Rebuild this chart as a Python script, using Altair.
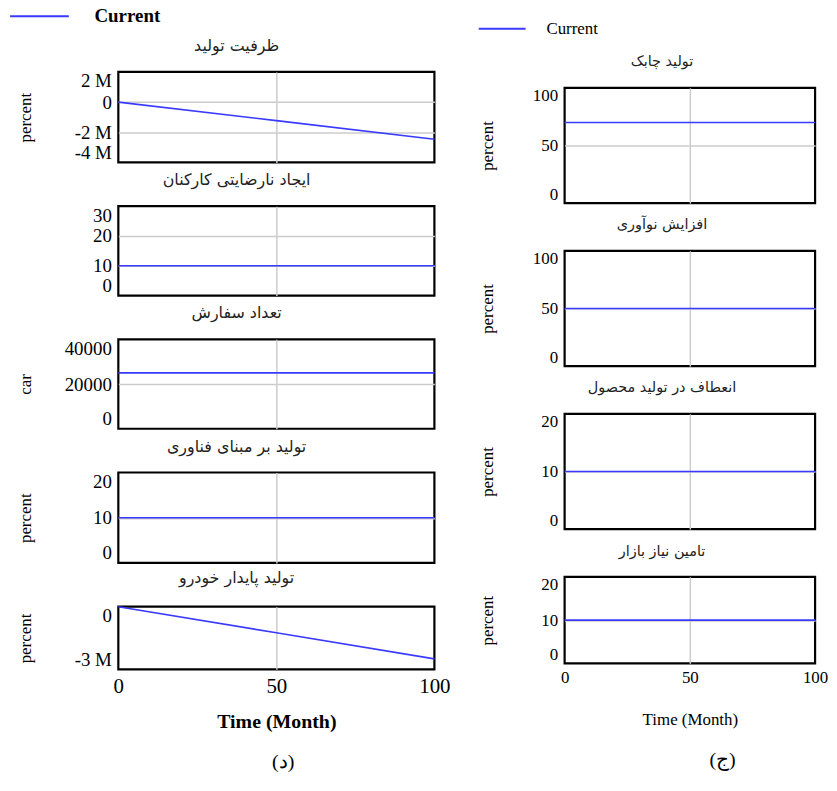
import altair as alt
import pandas as pd

# ---- data -------------------------------------------------------------
time = [0, 50, 100]

# left column (د)
capacity = [0, -1230000, -2460000]          # ظرفیت تولید
dissatisfaction = [10, 10, 10]              # ایجاد نارضایتی کارکنان
orders = [25000, 25000, 25000]              # تعداد سفارش
tech_based = [10, 10, 10]                   # تولید بر مبنای فناوری
sustainable = [0, -1250000, -2500000]       # تولید پایدار خودرو

# right column (ج)
agile = [70, 70, 70]                        # تولید چابک
innovation = [50, 50, 50]                   # افزایش نوآوری
flexibility = [10, 10, 10]                  # انعطاف در تولید محصول
market_need = [10, 10, 10]                  # تامین نیاز بازار

left_titles = ["ظرفیت تولید", "ایجاد نارضایتی کارکنان", "تعداد سفارش",
               "تولید بر مبنای فناوری", "تولید پایدار خودرو"]
right_titles = ["تولید چابک", "افزایش نوآوری", "انعطاف در تولید محصول",
                "تامین نیاز بازار"]

left_yunits = ["percent", None, "car", "percent", "percent"]
right_yunits = ["percent", "percent", "percent", "percent"]

left_domains = [[-4000000, 2000000], [0, 30], [0, 40000], [0, 20], [-3000000, 0]]
left_ticks = [[-4000000, -2000000, 0, 2000000], [0, 10, 20, 30],
              [0, 20000, 40000], [0, 10, 20], [-3000000, 0]]
right_domains = [[0, 100], [0, 100], [0, 20], [0, 20]]
right_ticks = [[0, 50, 100], [0, 50, 100], [0, 10, 20], [0, 10, 20]]
x_ticks = [0, 50, 100]
series_name = "Current"

SERIF = "Liberation Serif"
ARABIC = "DejaVu Sans"
BLUE = "#3a3aff"
M_EXPR = "datum.value == 0 ? '0' : (datum.value / 1000000) + ' M'"
LEFT_SYMBOL = "M-1,0H7"
RIGHT_SYMBOL = "M-4,0H4"


def panel(values, title, yunit, domain, ticks, width, height, side,
          bottom=False, legend=None, mfmt=False):
    big = side == "left"
    df = pd.DataFrame({"time": time, "value": values, "series": series_name})
    lo, hi = domain
    ygrid = {"condition": {"test": f"datum.value > {lo} && datum.value < {hi}",
                           "value": 1}, "value": 0}
    yaxis_kw = dict(
        values=ticks, grid=True, gridColor="#cccccc", gridWidth=1.5,
        gridOpacity=ygrid, domain=False, ticks=False, labelFlush=True,
        labelFont=SERIF, labelFontSize=19 if big else 17, labelColor="black",
        labelPadding=7, format="d",
    )
    if mfmt:
        yaxis_kw["labelExpr"] = M_EXPR
    if yunit:
        yaxis_kw.update(title=yunit, titleFont=SERIF, titleFontSize=17,
                        titleFontWeight="normal", titleColor="black",
                        titleX=-93 if big else -78, titleY=height / 2,
                        titleAngle=-90, titleBaseline="middle", titleAlign="center")
    else:
        yaxis_kw["title"] = None

    if bottom:
        xaxis = alt.Axis(
            values=x_ticks, grid=True, gridColor="#cccccc", gridWidth=1.5,
            gridOpacity={"condition": {"test": "datum.value == 50", "value": 1}, "value": 0},
            domain=False, ticks=False, labelAngle=0, labelFlush=False, labelFont=SERIF,
            labelFontSize=21 if big else 17, labelColor="black", labelPadding=6,
            title="Time (Month)", titleFont=SERIF, titleFontSize=20 if big else 17,
            titleFontWeight="bold" if big else "normal", titleColor="black",
            titleY=53 if big else 57, titleBaseline="middle")
    else:
        xaxis = alt.Axis(values=[50], grid=True, gridColor="#cccccc", gridWidth=1.5,
                         labels=False, ticks=False, domain=False, title=None)

    enc = dict(
        x=alt.X("time:Q", scale=alt.Scale(domain=[0, 100], nice=False), axis=xaxis),
        y=alt.Y("value:Q", scale=alt.Scale(domain=domain, nice=False, zero=False),
                axis=alt.Axis(**yaxis_kw)),
    )
    if legend is not None:
        enc["color"] = alt.Color("series:N",
                                 scale=alt.Scale(domain=[series_name], range=[BLUE]),
                                 legend=legend)
        mark = alt.Chart(df).mark_line(strokeWidth=1.6)
    else:
        mark = alt.Chart(df).mark_line(strokeWidth=1.6, color=BLUE)

    return mark.encode(**enc).properties(
        width=width, height=height,
        title=alt.TitleParams(title, font=ARABIC, fontSize=16 if big else 14.5,
                              fontWeight="normal", color="#222222",
                              anchor="middle", frame="group",
                              dx=-40 if big else -28, offset=10,
                              baseline="middle"))


def spacer(width, height):
    return alt.Chart(pd.DataFrame({"time": [0]})).mark_point(opacity=0).encode(
        x=alt.X("time:Q", axis=None)).properties(
        width=width, height=height, view=alt.ViewBackground(strokeOpacity=0))


left_series = [capacity, dissatisfaction, orders, tech_based, sustainable]
right_series = [agile, innovation, flexibility, market_need]
left_heights = [91, 90, 90, 91, 63]
right_heights = [116, 116, 116, 87]
LEFT_W, RIGHT_W = 318, 252

left_legend = alt.Legend(orient="none", legendX=-111, legendY=-20.5, title=None,
                         symbolType=LEFT_SYMBOL, symbolSize=218, symbolStrokeWidth=2,
                         labelFont=SERIF, labelFontSize=19, labelFontWeight="bold",
                         labelColor="black", labelOffset=68, padding=0)
right_legend = alt.Legend(orient="none", legendX=-71.3, legendY=-7, title=None,
                          symbolType=RIGHT_SYMBOL, symbolSize=139, symbolStrokeWidth=2,
                          labelFont=SERIF, labelFontSize=17, labelFontWeight="normal",
                          labelColor="black", labelOffset=36, padding=0)

left_panels = [spacer(LEFT_W, 1)]
for i in range(5):
    left_panels.append(panel(
        left_series[i], left_titles[i], left_yunits[i], left_domains[i],
        left_ticks[i], LEFT_W, left_heights[i], "left",
        bottom=(i == 4), legend=left_legend if i == 0 else None,
        mfmt=(i in (0, 4))))

right_panels = [spacer(RIGHT_W, 13)]
for i in range(4):
    right_panels.append(panel(
        right_series[i], right_titles[i], right_yunits[i], right_domains[i],
        right_ticks[i], RIGHT_W, right_heights[i], "right",
        bottom=(i == 3), legend=right_legend if i == 0 else None))

left_col = alt.vconcat(*left_panels, spacing=44, bounds="flush").properties(
    title=alt.TitleParams("(د)", orient="bottom", anchor="middle", frame="bounds",
                          dx=54, offset=19, font=SERIF, fontSize=20,
                          fontWeight="normal", color="black", baseline="top"))
right_col = alt.vconcat(*right_panels, spacing=48, bounds="flush").properties(
    title=alt.TitleParams("(ج)", orient="bottom", anchor="middle", frame="bounds",
                          dx=70, offset=21, font=SERIF, fontSize=20,
                          fontWeight="normal", color="black", baseline="top"))

chart = alt.hconcat(
    left_col, right_col, spacing=25,
    padding={"left": 0, "top": -4, "right": 0, "bottom": 0}).resolve_scale(
    color="independent").configure(background="white").configure_view(
    stroke="black", strokeWidth=2.2)

chart.save("out.html", embed_options={"renderer": "svg", "actions": False})
